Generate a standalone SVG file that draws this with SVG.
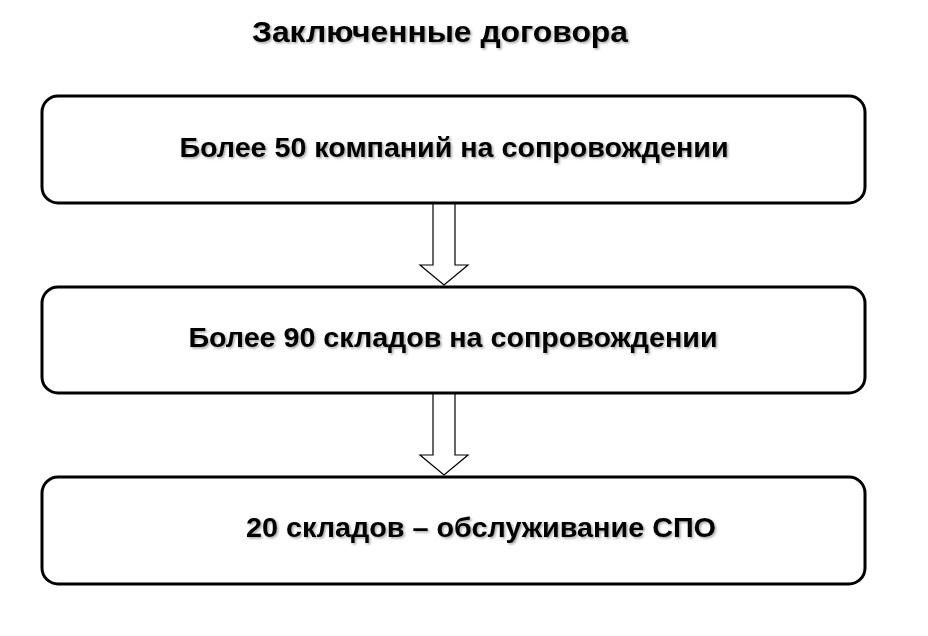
<svg xmlns="http://www.w3.org/2000/svg" width="928" height="636" viewBox="0 0 928 636">
<defs>
<filter id="shadow" x="-5%" y="-30%" width="110%" height="160%">
<feDropShadow dx="1.5" dy="1.5" stdDeviation="1" flood-color="#000" flood-opacity="0.35"/>
</filter>
</defs>
<style>
.box{fill:#fff;stroke:#000;stroke-width:3}
.arrow{fill:#fff;stroke:#000;stroke-width:1.2}
.t{font-family:"Liberation Sans",Arial,sans-serif;font-weight:bold;fill:#000;text-anchor:middle;filter:url(#shadow)}
.title{font-size:30px}
.lbl{font-size:28px}
</style>
<rect width="928" height="636" fill="#fff"/>
<g id="title">
<text class="t title" x="440" y="42" textLength="376" lengthAdjust="spacingAndGlyphs">Заключенные договора</text>
</g>
<g id="connectors">
<polygon class="arrow" points="433,203 455,203 455,265 468,265 444,285 420,265 433,265"/>
<polygon class="arrow" points="433,393 455,393 455,455 468,455 444,475 420,455 433,455"/>
</g>
<g id="node1">
<rect class="box" x="42" y="96" width="823" height="107" rx="16"/>
<text class="t lbl" x="454" y="157" textLength="549" lengthAdjust="spacingAndGlyphs">Более 50 компаний на сопровождении</text>
</g>
<g id="node2">
<rect class="box" x="42" y="287" width="823" height="106" rx="16"/>
<text class="t lbl" x="453" y="347" textLength="529" lengthAdjust="spacingAndGlyphs">Более 90 складов на сопровождении</text>
</g>
<g id="node3">
<rect class="box" x="42" y="477" width="823" height="107" rx="16"/>
<text class="t lbl" x="481" y="537" textLength="470" lengthAdjust="spacingAndGlyphs">20 складов – обслуживание СПО</text>
</g>
</svg>
